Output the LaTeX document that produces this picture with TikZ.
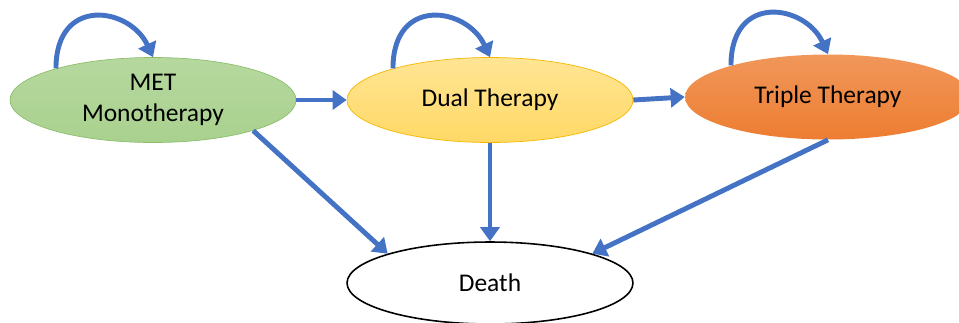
\documentclass[tikz,border=0pt]{standalone}
\usepackage{fontspec}
\setmainfont{Carlito}
\usetikzlibrary{shapes.geometric,arrows.meta}

\definecolor{arrowblue}{HTML}{4472C4}
\definecolor{metgreen}{HTML}{A9D18E}
\definecolor{metedge}{HTML}{8CBF6C}
\definecolor{dualyellow}{HTML}{FFD966}
\definecolor{dualedge}{HTML}{F5B800}
\definecolor{tripleorange}{HTML}{ED7D31}

\begin{document}
\begin{tikzpicture}
[x=0.02cm,y=-0.02cm,
state/.style={ellipse,minimum width=5.72cm,minimum height=1.7cm,inner sep=0pt,align=center,font=\fontsize{14.5}{17.5}\selectfont},
flow/.style={arrowblue,line width=2.8pt,-{Triangle[length=0.28cm,width=0.38cm]}},]

\clip (0,0) rectangle (959,322);

%States
\node (met) at (153,100)[state,draw=metedge,top color=metgreen!85!white,bottom color=metgreen] {MET\\Monotherapy};
\node (dual) at (490,100)[state,draw=dualedge,top color=dualyellow!70!white,bottom color=dualyellow] {Dual Therapy};
\node (triple) at (828,97)[state,top color=tripleorange!80!white,bottom color=tripleorange] {Triple Therapy};
\node (death) at (490,283)[state,draw=black,line width=0.9pt,fill=white,minimum height=1.64cm] {Death};

%Staying in the same state
\draw[flow] (met.162) .. controls +(0,-73) and +(-23,-50) .. (met.90);
\draw[flow] (dual.162) .. controls +(0,-73) and +(-23,-50) .. (dual.90);
\draw[flow] (triple.162) .. controls +(0,-73) and +(-23,-50) .. (triple.90);

%Moving on
\draw[flow] (met.east) -- (dual.west);
\draw[flow] (dual.east) -- (triple.west);

%Dying
\draw[flow] (met.343) -- (death.164);
\draw[flow] (dual.south) -- (death.north);
\draw[flow] (triple.south) -- (death.16);

\end{tikzpicture}
\end{document}
